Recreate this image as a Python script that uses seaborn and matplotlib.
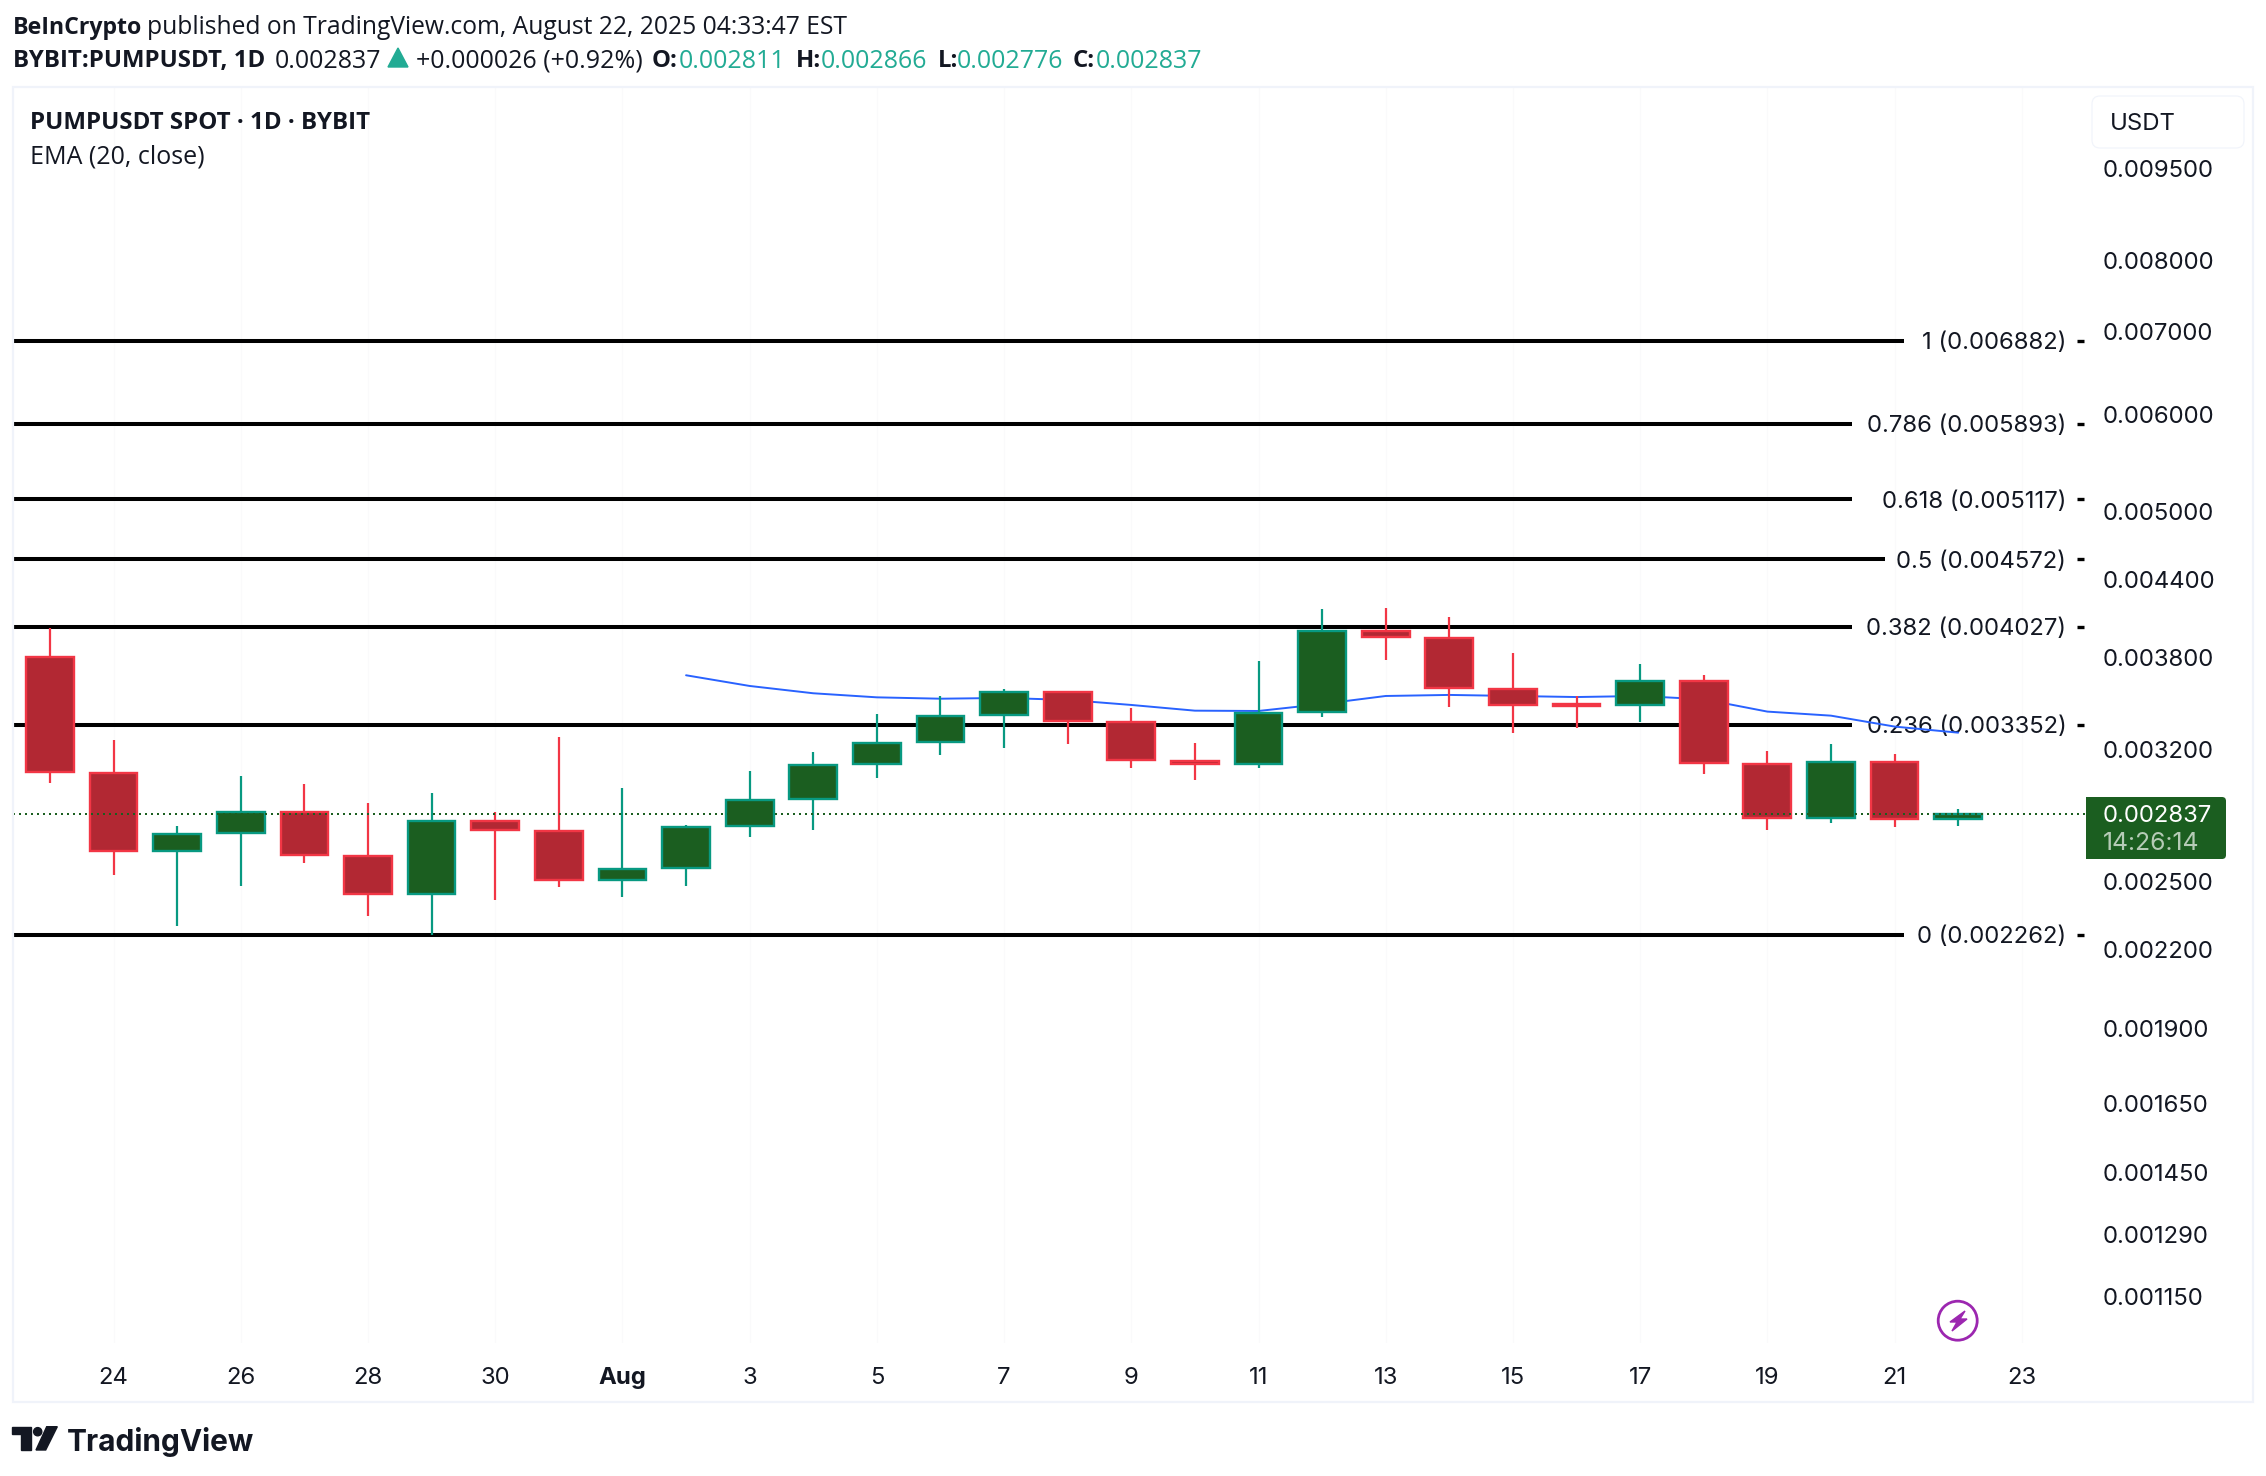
import numpy as np
import pandas as pd
import matplotlib
matplotlib.use('Agg')
import matplotlib.pyplot as plt
import seaborn as sns
from matplotlib.patches import Circle, FancyBboxPatch, Polygon, Rectangle
from matplotlib.ticker import FixedFormatter, NullLocator
from matplotlib.transforms import IdentityTransform

# Candles, 23 Jul to 22 Aug 2025
opens = [0.003807, 0.003064, 0.002647, 0.002738, 0.002848, 0.002623, 0.002443, 0.002800,
         0.002748, 0.002507, 0.002564, 0.002774, 0.002918, 0.003116, 0.003247, 0.003415,
         0.003566, 0.003371, 0.003133, 0.003116, 0.003435, 0.003997, 0.003945, 0.003586,
         0.003484, 0.003480, 0.003640, 0.003116, 0.002816, 0.003127, 0.002811]
closes = [0.003070, 0.002647, 0.002733, 0.002848, 0.002628, 0.002443, 0.002800, 0.002754,
          0.002507, 0.002560, 0.002769, 0.002913, 0.003110, 0.003241, 0.003409, 0.003566,
          0.003377, 0.003139, 0.003116, 0.003428, 0.003997, 0.003952, 0.003592, 0.003480,
          0.003476, 0.003640, 0.003122, 0.002816, 0.003127, 0.002811, 0.002837]
highs = [0.004020, 0.003259, 0.002774, 0.003047, 0.003001, 0.002896, 0.002951, 0.002848,
         0.003278, 0.002979, 0.002780, 0.003075, 0.003187, 0.003422, 0.003539, 0.003586,
         0.003566, 0.003460, 0.003241, 0.003779, 0.004165, 0.004173, 0.004103, 0.003836,
         0.003539, 0.003758, 0.003681, 0.003193, 0.003235, 0.003175, 0.002866]
lows = [0.003007, 0.002531, 0.002301, 0.002479, 0.002589, 0.002344, 0.002262, 0.002415,
        0.002475, 0.002429, 0.002479, 0.002718, 0.002754, 0.003035, 0.003169, 0.003211,
        0.003235, 0.003093, 0.003024, 0.003093, 0.003403, 0.003786, 0.003467, 0.003302,
        0.003333, 0.003371, 0.003058, 0.002754, 0.002790, 0.002769, 0.002776]

# EMA 20 starts on Aug 2
ema_days = [10, 11, 12, 13, 14, 15, 16, 17, 18, 19, 20, 21, 22, 23, 24, 25, 26, 27, 28, 29, 30]
ema_vals = [0.003679, 0.003606, 0.003557, 0.003530, 0.003521, 0.003526, 0.003513, 0.003480,
            0.003443, 0.003441, 0.003486, 0.003539, 0.003546, 0.003539, 0.003532, 0.003539,
            0.003517, 0.003437, 0.003411, 0.003342, 0.003304]

# Fibonacci levels
fib_ratios = ['1', '0.786', '0.618', '0.5', '0.382', '0.236', '0']
fib_prices = [0.006882, 0.005893, 0.005117, 0.004572, 0.004027, 0.003352, 0.002262]
fib_ends = [29.15, 28.33, 28.33, 28.85, 28.33, 28.33, 29.15]

# Axis labels
price_ticks = [0.0095, 0.008, 0.007, 0.006, 0.005, 0.0044, 0.0038, 0.0032,
               0.0025, 0.0022, 0.0019, 0.00165, 0.00145, 0.00129, 0.00115]
day_ticks = [1, 3, 5, 7, 9, 11, 13, 15, 17, 19, 21, 23, 25, 27, 29, 31]
day_labels = ['24', '26', '28', '30', 'Aug', '3', '5', '7', '9', '11', '13', '15', '17', '19', '21', '23']

last_price = 0.002837

INK = '#131722'
TEAL = '#22AB94'
UP_EDGE = '#089981'
UP_FILL = '#1B5E20'
DOWN_EDGE = '#F23645'
DOWN_FILL = '#B22833'
BORDER = '#F0F3FA'
W, H = 2266, 1476
AXIS_FS = 17.2

sns.set_theme(style='white')
plt.rcParams['font.family'] = ['Inter', 'DejaVu Sans']

fig = plt.figure(figsize=(W / 100, H / 100), dpi=100, facecolor='white')
ax = fig.add_axes([13 / W, 1 - 1343 / H, (2086 - 13) / W, (1343 - 87) / H])
ax.patch.set_alpha(0)


def top_text(x, y, s, **kw):
    kw.setdefault('fontsize', 18)
    kw.setdefault('color', INK)
    kw.setdefault('family', ['Open Sans', 'DejaVu Sans'])
    fig.text(x / W, 1 - y / H, s, va='center_baseline', **kw)


def px(points):
    return [(x, H - y) for x, y in points]


# Frame around the pane
fig.add_artist(Rectangle((12.5, H - 1402), 2240.5, 1402 - 87, fill=False, ec=BORDER, lw=1.6,
                         transform=IdentityTransform()))

# Header
top_text(13, 25, 'BeInCrypto', fontweight='bold', fontsize=16.7)
top_text(147, 25, 'published on TradingView.com, August 22, 2025 04:33:47 EST', fontsize=17.7)
top_text(13, 58, 'BYBIT:PUMPUSDT, 1D', fontweight='bold', fontsize=17.3)
top_text(275, 58, '0.002837')
fig.add_artist(Polygon(px([(388, 67), (408, 67), (398, 48)]), color=TEAL, transform=IdentityTransform()))
top_text(416, 58, '+0.000026 (+0.92%)')
for x_head, head, x_val, val in [(652, 'O:', 679, '0.002811'), (796, 'H:', 821, '0.002866'),
                                 (938, 'L:', 957, '0.002776'), (1073, 'C:', 1096, '0.002837')]:
    top_text(x_head, 58, head, fontweight='bold', fontsize=17.3)
    top_text(x_val, 58, val, color=TEAL)
top_text(30, 120, 'PUMPUSDT SPOT · 1D · BYBIT', fontweight='bold', fontsize=17.4)
top_text(30, 154, 'EMA (20, close)')

# Fib levels
ax.hlines(fib_prices, -0.59, fib_ends, color='black', lw=2.9, zorder=1)
ax.hlines(fib_prices, 31.87, 31.98, color='black', lw=2.4, zorder=1)
for ratio, price in zip(fib_ratios, fib_prices):
    ax.text(31.70, price, f'{ratio} ({price:.6f})', ha='right', va='center_baseline',
            fontsize=AXIS_FS, color=INK, zorder=2)

# EMA
ema_df = pd.DataFrame({'day': ema_days, 'ema': ema_vals})
sns.lineplot(data=ema_df, x='day', y='ema', ax=ax, color='#2962FF', lw=1.4, zorder=3, legend=False)

# Candles
days = np.arange(len(opens))
for d, o, c, hi, lo in zip(days, opens, closes, highs, lows):
    up = c >= o
    edge = UP_EDGE if up else DOWN_EDGE
    fill = UP_FILL if up else DOWN_FILL
    ax.vlines(d, lo, hi, color=edge, lw=1.6, zorder=4)
    ax.bar(d, abs(c - o), bottom=min(o, c), width=0.75, color=fill, edgecolor=edge, lw=1.7, zorder=5)

# Last price line
ax.axhline(last_price, color=UP_FILL, lw=1.44, ls=(0, (1, 2)), zorder=6)

# Axes
ax.set_yscale('log')
ax.set_xlim(-0.582, 32.01)
ax.set_ylim(0.0010536, 0.01107)
ax.set_xlabel('')
ax.set_ylabel('')
ax.yaxis.tick_right()
ax.set_yticks(price_ticks)
ax.yaxis.set_major_formatter(FixedFormatter([f'{p:.6f}' for p in price_ticks]))
ax.yaxis.set_minor_locator(NullLocator())
ax.set_xticks(day_ticks)
ax.set_xticklabels(day_labels)
ax.tick_params(axis='y', length=0, pad=12.2, labelsize=AXIS_FS, labelcolor=INK)
ax.tick_params(axis='x', length=0, pad=17, labelsize=AXIS_FS, labelcolor=INK)
for label in ax.get_xticklabels():
    if label.get_text() == 'Aug':
        label.set_fontweight('bold')
ax.grid(axis='x', color='#FAFAFB', lw=1)
ax.set_axisbelow(True)
sns.despine(ax=ax, left=True, bottom=True, right=True, top=True)

# Price tag and currency box
ident = IdentityTransform()
fig.add_artist(FancyBboxPatch((2086, H - 859), 140, 62, boxstyle='round,pad=0,rounding_size=4',
                              fc=UP_FILL, ec='none', transform=ident, zorder=7))
fig.add_artist(Rectangle((2086, H - 859), 8, 62, fc=UP_FILL, ec='none', transform=ident, zorder=7))
fig.text(2103 / W, 1 - 814 / H, '0.002837', color='white', fontsize=AXIS_FS, va='center_baseline', zorder=8)
fig.text(2103 / W, 1 - 841 / H, '14:26:14', color='#B5CBB6', fontsize=17.8, va='center_baseline', zorder=8)
fig.add_artist(FancyBboxPatch((2092, H - 148), 152, 52, boxstyle='round,pad=0,rounding_size=8',
                              fc='white', ec=BORDER, lw=0.8, transform=ident))
fig.text(2110 / W, 1 - 122 / H, 'USDT', color=INK, fontsize=AXIS_FS, va='center_baseline')

# Bolt icon
fig.add_artist(Circle((1957.7, H - 1320.7), 19.5, fill=False, ec='#9C27B0', lw=2, transform=ident))
fig.add_artist(Polygon(px([(1965, 1311), (1950, 1322), (1957, 1322), (1952, 1331), (1967, 1319), (1960, 1319)]),
                       color='#9C27B0', transform=ident))

# TradingView logo
fig.add_artist(Polygon(px([(12.3, 1426.7), (31, 1426.7), (31, 1450), (21, 1450), (21, 1434), (12.3, 1434)]),
                       color=INK, transform=ident))
fig.add_artist(Circle((37.7, H - 1431.7), 4.1, color=INK, transform=ident))
fig.add_artist(Polygon(px([(46.7, 1426.7), (57.3, 1426.7), (45.7, 1450), (36, 1450)]), color=INK, transform=ident))
fig.text(66.5 / W, 1 - 1439 / H, 'TradingView', color=INK, fontsize=21.5, fontweight='bold', va='center_baseline')

fig.savefig('out.png', dpi=100, facecolor='white')
